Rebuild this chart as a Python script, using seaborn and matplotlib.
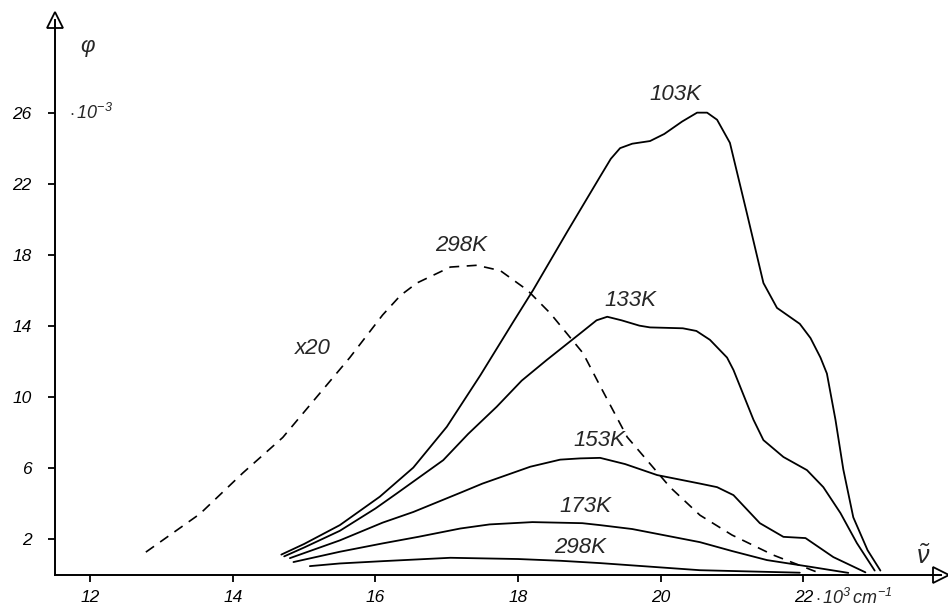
import numpy as np
import pandas as pd
import seaborn as sns
import matplotlib
matplotlib.use("Agg")
import matplotlib.pyplot as plt

# ---- data (wavenumber in 10^3 cm^-1, phi in 10^-3) ----
v_103 = [14.68, 15.0, 15.5, 16.06, 16.53, 17.0, 17.47, 17.93, 18.21, 18.69, 19.15, 19.3,
         19.43, 19.6, 19.85, 20.05, 20.3, 20.51, 20.65, 20.79, 20.97, 21.21, 21.44, 21.63,
         21.95, 22.1, 22.24, 22.33, 22.45, 22.56, 22.7, 22.9, 23.08]
p_103 = [1.1, 1.7, 2.76, 4.36, 6.0, 8.3, 11.2, 14.2, 16.0, 19.3, 22.4, 23.4,
         24.0, 24.25, 24.4, 24.8, 25.5, 26.0, 26.0, 25.6, 24.3, 20.3, 16.4, 15.0,
         14.1, 13.3, 12.2, 11.3, 8.7, 5.9, 3.2, 1.35, 0.2]

v_133 = [14.72, 15.0, 15.5, 16.0, 16.3, 16.95, 17.3, 17.7, 18.05, 18.4, 18.87, 19.1,
         19.25, 19.45, 19.7, 19.85, 20.31, 20.5, 20.69, 20.93, 21.02, 21.15, 21.3, 21.44,
         21.72, 22.05, 22.28, 22.52, 22.75, 23.0]
p_133 = [1.0, 1.5, 2.44, 3.7, 4.55, 6.42, 7.9, 9.43, 10.9, 12.06, 13.56, 14.3,
         14.5, 14.3, 14.0, 13.9, 13.85, 13.7, 13.2, 12.2, 11.5, 10.2, 8.7, 7.55,
         6.6, 5.86, 4.9, 3.44, 1.75, 0.2]

v_153 = [14.8, 15.5, 16.1, 16.53, 17.2, 17.5, 18.17, 18.59, 18.87, 19.15, 19.5, 19.95,
         20.3, 20.55, 20.79, 21.02, 21.39, 21.72, 22.03, 22.42, 22.87]
p_153 = [0.9, 1.9, 2.9, 3.5, 4.6, 5.1, 6.05, 6.45, 6.52, 6.55, 6.2, 5.58,
         5.3, 5.1, 4.9, 4.45, 2.87, 2.1, 2.03, 0.96, 0.1]

v_173 = [14.85, 15.5, 16.1, 16.6, 17.19, 17.6, 18.2, 18.9, 19.15, 19.6, 20.55, 21.0,
         21.49, 22.1, 22.63]
p_173 = [0.68, 1.26, 1.73, 2.1, 2.57, 2.8, 2.93, 2.87, 2.76, 2.54, 1.8, 1.3,
         0.79, 0.41, 0.07]

v_298 = [15.08, 15.5, 16.1, 17.05, 18.0, 18.6, 19.15, 20.55, 21.95]
p_298 = [0.45, 0.6, 0.73, 0.92, 0.85, 0.75, 0.62, 0.22, 0.08]

v_298x20 = [12.78, 13.54, 14.14, 14.7, 15.18, 15.64, 16.1, 16.35, 16.58, 17.05, 17.42, 17.75,
            18.13, 18.45, 18.91, 19.15, 19.53, 20.13, 20.55, 21.0, 21.58, 22.2]
p_298x20 = [1.24, 3.4, 5.7, 7.7, 10.0, 12.2, 14.6, 15.7, 16.4, 17.3, 17.4, 17.1,
            16.0, 14.7, 12.45, 10.6, 7.72, 4.9, 3.32, 2.2, 1.07, 0.1]

x_ticks = [12, 14, 16, 18, 20, 22]
y_ticks = [2, 6, 10, 14, 18, 22, 26]

curve_labels = ["103K", "133K", "153K", "173K", "298K", "298K"]
label_pos = [(20.2, 27.0), (19.58, 15.4), (19.14, 7.5), (18.95, 3.83), (18.87, 1.52), (17.2, 18.5)]

# ---- style ----
sns.set_theme(style="white")
plt.rcParams['font.family'] = ['Liberation Sans', 'DejaVu Sans']
plt.rcParams['mathtext.fontset'] = 'custom'
plt.rcParams['mathtext.rm'] = 'Liberation Sans:italic'
plt.rcParams['mathtext.it'] = 'Liberation Sans:italic'

fig = plt.figure(figsize=(9.48, 6.08), dpi=100)
ax = fig.add_axes([55/948, 33/608, 886/948, 555/608])

series = [(v_103, p_103), (v_133, p_133), (v_153, p_153), (v_173, p_173), (v_298, p_298)]
for xs, ys in series:
    df = pd.DataFrame({"v": xs, "phi": ys})
    sns.lineplot(data=df, x="v", y="phi", ax=ax, color="black", lw=1.3,
                 sort=False, estimator=None)

dfd = pd.DataFrame({"v": v_298x20, "phi": p_298x20})
sns.lineplot(data=dfd, x="v", y="phi", ax=ax, color="black", lw=1.2,
             sort=False, estimator=None)
ax.lines[-1].set_dashes((6, 4.5))

ax.set_xlim(11.506, 23.93)
ax.set_ylim(-0.05, 31.22)

for s in ["top", "right"]:
    ax.spines[s].set_visible(False)
for s in ["left", "bottom"]:
    ax.spines[s].set_color("black")
    ax.spines[s].set_linewidth(1.4)

ax.set_xticks(x_ticks)
ax.set_yticks(y_ticks)
ax.set_xticklabels([str(t) for t in x_ticks], fontstyle="italic", fontsize=12.5)
ax.set_yticklabels([str(t) for t in y_ticks], fontstyle="italic", fontsize=12.5)
ax.tick_params(axis="x", direction="out", length=5, width=1.3, pad=6, colors="black", bottom=True)
ax.tick_params(axis="y", direction="out", length=5, width=1.3, pad=12, colors="black", left=True)
ax.set_xlabel("")
ax.set_ylabel("")

# axis arrowheads
ax.plot(1, 0, marker=">", ms=12, mfc="white", mec="black", mew=1.3,
        transform=ax.transAxes, clip_on=False)
ax.plot(0, 1, marker="^", ms=12, mfc="white", mec="black", mew=1.3,
        transform=ax.transAxes, clip_on=False)

# curve labels
for (x, y), t in zip(label_pos, curve_labels):
    ax.text(x, y, t, fontsize=16, fontstyle="italic", ha="center", va="center")
ax.text(15.12, 12.7, "x20", fontsize=16, fontstyle="italic", ha="center", va="center")

# axis labels
ax.text(11.955, 29.75, "φ", fontsize=16, fontstyle="italic", ha="center", va="center")
ax.text(11.7, 26.0, r"$\cdot\,10^{-3}$", fontsize=13, ha="left", va="center")
ax.text(23.68, 0.95, r"$\tilde{\nu}$", fontsize=18, ha="center", va="center")
ax.text(22.16, -1.35, r"$\cdot\,10^{3}\,cm^{-1}$", fontsize=13, ha="left", va="center", clip_on=False)

fig.savefig("out.png", dpi=100)
